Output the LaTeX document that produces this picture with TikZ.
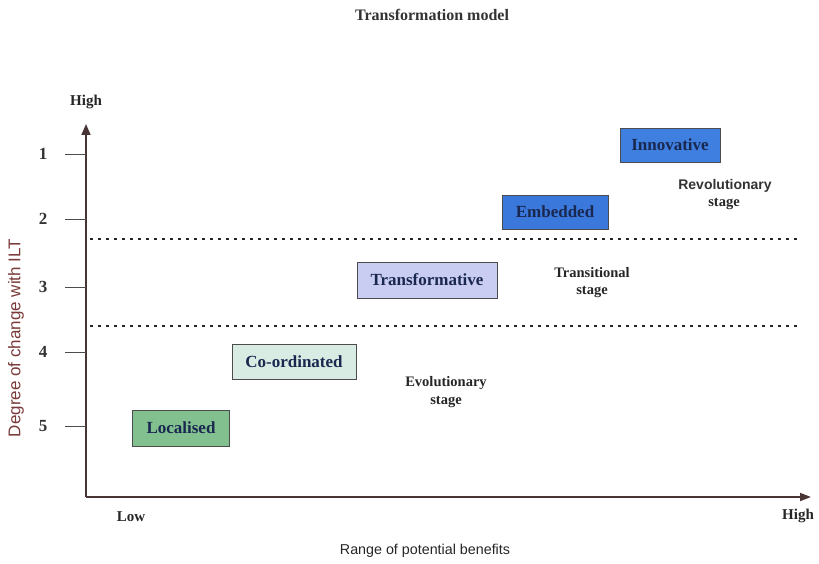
\documentclass[tikz,border=0pt]{standalone}
\usepackage{fontspec}
\setmainfont{Liberation Serif}
\setsansfont{Liberation Sans}
\usetikzlibrary{arrows.meta}
\definecolor{axiscol}{HTML}{4A3535}
\definecolor{ylabcol}{HTML}{7A3A3A}
\definecolor{bluebox}{HTML}{3F7FE0}
\definecolor{bluebox2}{HTML}{3A78DC}
\definecolor{lavbox}{HTML}{C9CDF2}
\definecolor{palebox}{HTML}{D9ECE3}
\definecolor{greenbox}{HTML}{82C08F}
\definecolor{navytext}{HTML}{1A2850}
\tikzset{
  stagebox/.style={draw=black!70, line width=0.9pt, minimum height=34pt, font=\bfseries\fontsize{17}{19}\selectfont, text=navytext, inner sep=0pt},
  ticklbl/.style={font=\fontsize{17}{19}\selectfont\bfseries, text=black!80},
  smalllbl/.style={font=\bfseries\fontsize{15}{17}\selectfont, text=black!85},
  stagetxt/.style={font=\fontsize{14.5}{16}\selectfont\bfseries, text=black!85, align=center},
  dotline/.style={line width=2.8pt, dash pattern=on 2.8pt off 5.2pt, black!85},
  axisline/.style={line width=1.6pt, draw=axiscol},
}
\begin{document}
\begin{tikzpicture}[x=1pt, y=-1pt]
\useasboundingbox (0,0) rectangle (819,564);
% title
\node[font=\fontsize{16}{18}\selectfont\bfseries, text=black!80] (title) at (432,15) {Transformation model};
% axes
\coordinate (origin) at (86,497);
\coordinate (ytip) at (86,124);
\coordinate (xtip) at (811,497);
\draw[axisline, -{Triangle[length=11pt,width=9pt]}] (origin) -- (ytip);
\draw[axisline, -{Triangle[length=11pt,width=8pt]}] (origin) -- (xtip);
\node[smalllbl] (yhigh) at (86,102) {High};
\node[smalllbl, font=\bfseries\fontsize{15}{18}\selectfont] (xlow) at (131,517) {Low};
\node[smalllbl, font=\bfseries\fontsize{15}{18}\selectfont] (xhigh) at (798,516) {High};
% ticks
\foreach \n/\yy in {1/154, 2/219, 3/287, 4/352, 5/426} {
  \coordinate (t\n) at (86,\yy);
  \coordinate (ts\n) at (65,\yy);
  \draw[line width=0.8pt, black!70] (ts\n) -- (t\n);
  \node[ticklbl] (l\n) at (43,\yy) {\n};
}
% axis titles
\node[font=\sffamily\fontsize{17}{19}\selectfont, text=ylabcol, rotate=90] (ytitle) at (16,338) {Degree of change with ILT};
\node[font=\sffamily\fontsize{14.3}{16}\selectfont, text=black!85] (xtitle) at (425,551) {Range of potential benefits};
% dotted stage boundaries
\coordinate (d1a) at (90,239); \coordinate (d1b) at (800,239);
\coordinate (d2a) at (90,326); \coordinate (d2b) at (800,326);
\draw[dotline] (d1a) -- (d1b);
\draw[dotline] (d2a) -- (d2b);
% boxes
\node[stagebox, fill=bluebox, minimum width=100pt] (innov) at (670,145) {Innovative};
\node[stagebox, fill=bluebox2, minimum width=106pt] (embed) at (555,212) {Embedded};
\node[stagebox, fill=lavbox, minimum width=140pt, minimum height=36pt] (transf) at (427,280) {Transformative};
\node[stagebox, fill=palebox, minimum width=124pt, minimum height=35pt] (coord) at (294,362) {Co-ordinated};
\node[stagebox, fill=greenbox, minimum width=97pt, minimum height=36pt] (local) at (181,428) {Localised};
% stage labels
\node[font=\sffamily\bfseries\fontsize{14}{16}\selectfont, text=black!80] (rev) at (725,186) {Revolutionary};
\node[stagetxt] (revs) at (724,204) {stage};
\node[stagetxt] (tra) at (592,273) {Transitional};
\node[stagetxt] (tras) at (592,292) {stage};
\node[stagetxt] (evo) at (446,383) {Evolutionary};
\node[stagetxt] (evos) at (446,402) {stage};
\end{tikzpicture}
\end{document}
